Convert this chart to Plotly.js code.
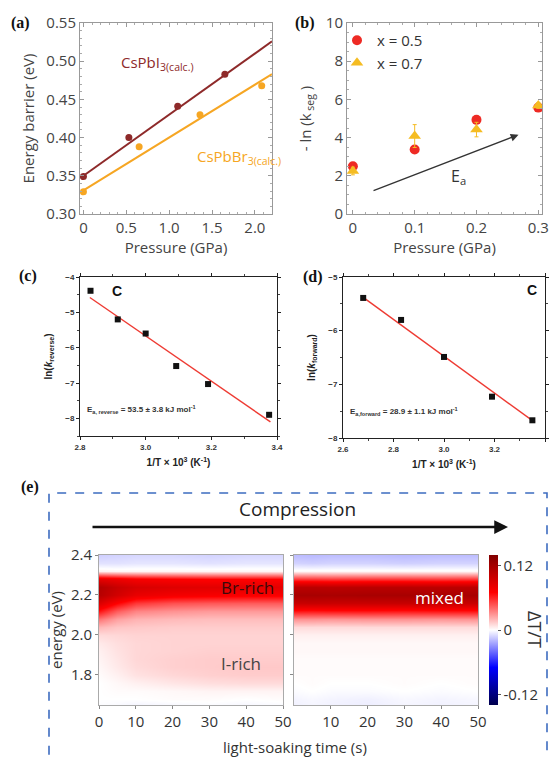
<!DOCTYPE html>
<html><head><meta charset="utf-8">
<script src="https://cdn.plot.ly/plotly-3.0.1.min.js"></script>
<style>html,body{margin:0;padding:0;background:#fff}#fig{width:551px;height:759px}</style>
</head><body><div id="fig"></div>
<script>
// ---------- panel (a) ----------
const aPressI = [0, 0.53, 1.1, 1.65];
const aBarrierI = [0.349, 0.400, 0.441, 0.483];
const aPressBr = [0, 0.65, 1.36, 2.08];
const aBarrierBr = [0.329, 0.388, 0.430, 0.468];
const aFitX = [0, 2.2];
const aFitI = [0.350, 0.526];
const aFitBr = [0.331, 0.483];
// ---------- panel (b) ----------
const bPress = [0, 0.1, 0.2, 0.3];
const bX05 = [2.5, 3.38, 4.93, 5.57];
const bX05err = [0.12, 0.12, 0.15, 0.12];
const bX07 = [2.25, 4.08, 4.42, 5.68];
const bX07err = [0.2, 0.6, 0.38, 0.15];
const bArrowFrom = [0.031, 1.19];
const bArrowTo = [0.268, 4.15];
// ---------- panel (c) ----------
const cInvT = [2.832, 2.915, 3.0, 3.093, 3.19, 3.376];
const cLnK = [-4.39, -5.2, -5.6, -6.52, -7.03, -7.9];
const cFitX = [2.83, 3.38];
const cFitY = [-4.58, -8.1];
// ---------- panel (d) ----------
const dInvT = [2.68, 2.83, 3.0, 3.19, 3.35];
const dLnK = [-5.39, -5.8, -6.49, -7.23, -7.67];
const dFitX = [2.68, 3.36];
const dFitY = [-5.38, -7.71];
// ---------- panel (e) ----------
const eTimes = [0, 5, 10, 20, 30, 40, 50];
const eEnergy = [1.64, 1.68, 1.72, 1.76, 1.80, 1.84, 1.88, 1.92, 1.96, 2.00,
                 2.04, 2.08, 2.12, 2.16, 2.20, 2.24, 2.28, 2.32, 2.36, 2.40];
const eLeft = [
  [-0.001,-0.002,-0.004,-0.003,-0.002,-0.003,-0.002],
  [0.000,0.000,0.000,0.001,0.001,0.000,0.001],
  [0.000,0.001,0.001,0.002,0.003,0.003,0.003],
  [0.000,0.002,0.004,0.007,0.009,0.010,0.010],
  [0.001,0.004,0.008,0.011,0.013,0.014,0.014],
  [0.002,0.006,0.010,0.013,0.014,0.015,0.015],
  [0.003,0.007,0.011,0.013,0.014,0.014,0.014],
  [0.004,0.008,0.011,0.012,0.013,0.013,0.013],
  [0.006,0.009,0.011,0.012,0.012,0.012,0.012],
  [0.010,0.011,0.012,0.012,0.012,0.012,0.012],
  [0.020,0.016,0.015,0.014,0.014,0.014,0.014],
  [0.038,0.026,0.021,0.019,0.018,0.018,0.018],
  [0.065,0.045,0.034,0.030,0.028,0.028,0.028],
  [0.090,0.070,0.055,0.048,0.046,0.045,0.045],
  [0.110,0.095,0.082,0.076,0.074,0.073,0.073],
  [0.112,0.100,0.092,0.088,0.086,0.085,0.085],
  [0.085,0.080,0.075,0.072,0.070,0.070,0.070],
  [0.004,0.003,0.003,0.003,0.003,0.003,0.003],
  [-0.008,-0.008,-0.007,-0.007,-0.008,-0.007,-0.007],
  [-0.013,-0.012,-0.011,-0.011,-0.012,-0.011,-0.011]
];
const eRight = [
  [-0.004,-0.003,-0.004,-0.005,-0.003,-0.004,-0.003],
  [-0.003,-0.002,-0.003,-0.004,-0.002,-0.003,-0.002],
  [-0.001,0.000,-0.001,-0.001,0.000,-0.001,0.000],
  [0.000,0.001,0.000,0.000,0.001,0.000,0.001],
  [0.001,0.001,0.001,0.001,0.001,0.001,0.001],
  [0.001,0.001,0.001,0.001,0.001,0.001,0.001],
  [0.001,0.001,0.001,0.001,0.001,0.001,0.001],
  [0.002,0.002,0.002,0.002,0.002,0.002,0.002],
  [0.002,0.002,0.002,0.002,0.002,0.002,0.002],
  [0.004,0.004,0.004,0.004,0.004,0.004,0.004],
  [0.010,0.010,0.010,0.010,0.010,0.010,0.010],
  [0.030,0.030,0.029,0.030,0.030,0.029,0.030],
  [0.065,0.064,0.065,0.065,0.064,0.065,0.065],
  [0.100,0.101,0.100,0.100,0.101,0.100,0.100],
  [0.118,0.118,0.117,0.118,0.118,0.117,0.118],
  [0.108,0.108,0.107,0.108,0.108,0.107,0.108],
  [0.055,0.055,0.054,0.055,0.055,0.054,0.055],
  [0.002,0.002,0.002,0.002,0.002,0.002,0.002],
  [-0.012,-0.013,-0.012,-0.012,-0.013,-0.012,-0.012],
  [-0.018,-0.019,-0.018,-0.018,-0.019,-0.018,-0.018]
];
const eColorTicks = [-0.12, 0, 0.12];

const W = 551, H = 759;
const px = v => v / W;
const py = v => 1 - v / H;

const MAROON = '#8e2a2a', ORANGE = '#f6a623', RED = '#ee2a24', YEL = '#f5bc22';
const SANS = 'Open Sans, sans-serif';
const ARIAL = 'Liberation Sans, Arial, sans-serif';
const SERIF = 'Liberation Serif, Times New Roman, serif';

const seismic = [[0,'#00004d'],[0.25,'#0000ff'],[0.5,'#ffffff'],[0.75,'#ff0000'],[1,'#800000']];

const traces = [
  // (a)
  {x: aFitX, y: aFitI, mode:'lines', line:{color:MAROON, width:2}, xaxis:'x', yaxis:'y', showlegend:false},
  {x: aFitX, y: aFitBr, mode:'lines', line:{color:ORANGE, width:2}, xaxis:'x', yaxis:'y', showlegend:false},
  {x: aPressI, y: aBarrierI, mode:'markers', marker:{color:MAROON, size:7}, xaxis:'x', yaxis:'y', showlegend:false},
  {x: aPressBr, y: aBarrierBr, mode:'markers', marker:{color:ORANGE, size:7}, xaxis:'x', yaxis:'y', showlegend:false},
  // (b)
  {x: bPress, y: bX05, mode:'markers', name:'x = 0.5', marker:{color:RED, size:10, symbol:'circle'},
   error_y:{type:'data', array:bX05err, color:RED, thickness:1, width:2}, xaxis:'x2', yaxis:'y2'},
  {x: bPress, y: bX07, mode:'markers', name:'x = 0.7', marker:{color:YEL, size:11, symbol:'triangle-up'},
   error_y:{type:'data', array:bX07err, color:YEL, thickness:1, width:2}, xaxis:'x2', yaxis:'y2'},
  // (c)
  {x: cFitX, y: cFitY, mode:'lines', line:{color:'#ee3b33', width:1.4}, xaxis:'x3', yaxis:'y3', showlegend:false},
  {x: cInvT, y: cLnK, mode:'markers', marker:{color:'#111', size:6, symbol:'square'}, xaxis:'x3', yaxis:'y3', showlegend:false},
  // (d)
  {x: dFitX, y: dFitY, mode:'lines', line:{color:'#ee3b33', width:1.4}, xaxis:'x4', yaxis:'y4', showlegend:false},
  {x: dInvT, y: dLnK, mode:'markers', marker:{color:'#111', size:6, symbol:'square'}, xaxis:'x4', yaxis:'y4', showlegend:false},
  // (e)
  {type:'heatmap', x: eTimes, y: eEnergy, z: eLeft, zsmooth:'best', colorscale: seismic, zmin:-0.14, zmax:0.14,
   showscale:false, xaxis:'x5', yaxis:'y5', showlegend:false},
  {type:'heatmap', x: eTimes, y: eEnergy, z: eRight, zsmooth:'best', colorscale: seismic, zmin:-0.14, zmax:0.14,
   xaxis:'x6', yaxis:'y6', showlegend:false,
   colorbar:{x:px(489), xanchor:'left', xpad:0, ypad:0, thickness:9, len:150/H, lenmode:'fraction',
     y:py(630), yanchor:'middle', outlinewidth:0, tickvals:eColorTicks, ticktext:['-0.12','0','0.12'],
     ticks:'outside', ticklen:3, tickcolor:'#555', tickfont:{family:SANS, size:15, color:'#333'}}}
];

const axAB = {showline:true, linecolor:'#999', linewidth:1, mirror:'ticks', ticks:'inside', ticklen:4,
  tickcolor:'#999', tickfont:{family:SANS, size:15, color:'#444'}, zeroline:false, showgrid:false};
const axCD = {showline:true, linecolor:'#222', linewidth:1, mirror:'ticks', ticks:'outside', ticklen:3,
  tickcolor:'#222', tickfont:{family:ARIAL, size:8, color:'#333', weight:'bold'}, zeroline:false, showgrid:false};
const axE = {showline:true, linecolor:'#aaa', linewidth:1, mirror:true, ticks:'outside', ticklen:3,
  tickcolor:'#888', tickfont:{family:SANS, size:15, color:'#333'}, zeroline:false, showgrid:false};

const annPx = (text, x, y, font, extra) => Object.assign({text, x:px(x), y:py(y),
  xref:'paper', yref:'paper', xanchor:'center', yanchor:'middle', showarrow:false, font}, extra || {});

const layout = {
  width:W, height:H, margin:{l:0, r:0, t:0, b:0}, paper_bgcolor:'#fff', plot_bgcolor:'#fff',
  showlegend:true,
  legend:{x:px(337), y:py(24), xanchor:'left', yanchor:'top', bgcolor:'rgba(0,0,0,0)',
    font:{family:SANS, size:15, color:'#333'}, tracegroupgap:0, itemwidth:30},
  xaxis: Object.assign({}, axAB, {domain:[px(80), px(272)], range:[-0.04, 2.2], anchor:'y',
    tickvals:[0,0.5,1,1.5,2], ticktext:['0','0.5','1.0','1.5','2.0'], minor:{ticks:'inside', ticklen:2, tickcolor:'#aaa', dtick:0.1},
    title:{text:'Pressure (GPa)', font:{family:SANS, size:15, color:'#444'}, standoff:6}}),
  yaxis: Object.assign({}, axAB, {domain:[py(214), py(23)], range:[0.30, 0.55], anchor:'x', dtick:0.05, tickformat:'.2f',
    minor:{ticks:'inside', ticklen:2, tickcolor:'#aaa', dtick:0.01},
    title:{text:'Energy barrier (eV)', font:{family:SANS, size:15, color:'#444'}, standoff:8}}),
  xaxis2: Object.assign({}, axAB, {domain:[px(347), px(542)], range:[-0.0095, 0.306], anchor:'y2', dtick:0.1,
    minor:{ticks:'inside', ticklen:2, tickcolor:'#aaa', dtick:0.02},
    title:{text:'Pressure (GPa)', font:{family:SANS, size:15, color:'#444'}, standoff:6}}),
  yaxis2: Object.assign({}, axAB, {domain:[py(214), py(23)], range:[0, 10], anchor:'x2', dtick:2,
    minor:{ticks:'inside', ticklen:2, tickcolor:'#aaa', dtick:0.5},
    title:{text:'- ln (k<sub> seg</sub> )', font:{family:SANS, size:15, color:'#444'}, standoff:10}}),
  xaxis3: Object.assign({}, axCD, {domain:[px(80), px(277)], range:[2.8, 3.4], anchor:'y3', dtick:0.2, tickformat:'.1f',
    minor:{ticks:'outside', ticklen:2, tickcolor:'#444', dtick:0.1},
    title:{text:'<b>1/T × 10<sup>3</sup> (K<sup>-1</sup>)</b>', font:{family:ARIAL, size:10, color:'#222'}, standoff:8}}),
  yaxis3: Object.assign({}, axCD, {domain:[py(436), py(277)], range:[-8.5, -4], anchor:'x3', dtick:1,
    minor:{ticks:'outside', ticklen:2, tickcolor:'#444', dtick:0.5},
    title:{text:'<b>ln(<i>k</i><sub>reverse</sub>)</b>', font:{family:ARIAL, size:10, color:'#222'}, standoff:10}}),
  xaxis4: Object.assign({}, axCD, {domain:[px(343), px(545)], range:[2.6, 3.4], anchor:'y4', dtick:0.2, tickformat:'.1f',
    minor:{ticks:'outside', ticklen:2, tickcolor:'#444', dtick:0.1},
    title:{text:'<b>1/T × 10<sup>3</sup> (K<sup>-1</sup>)</b>', font:{family:ARIAL, size:10, color:'#222'}, standoff:8}}),
  yaxis4: Object.assign({}, axCD, {domain:[py(438), py(277)], range:[-8, -5], anchor:'x4', dtick:1,
    minor:{ticks:'outside', ticklen:2, tickcolor:'#444', dtick:0.5},
    title:{text:'<b>ln(<i>k</i><sub>forward</sub>)</b>', font:{family:ARIAL, size:10, color:'#222'}, standoff:10}}),
  xaxis5: Object.assign({}, axE, {domain:[px(99), px(283)], range:[0, 50], anchor:'y5', tickvals:[0,10,20,30,40,50]}),
  yaxis5: Object.assign({}, axE, {domain:[py(705), py(555)], range:[1.648, 2.4], anchor:'x5', tickvals:[1.8,2.0,2.2,2.4],
    ticktext:['1.8','2.0','2.2','2.4'],
    title:{text:'energy (eV)', font:{family:SANS, size:15, color:'#333'}, standoff:4}}),
  xaxis6: Object.assign({}, axE, {domain:[px(294), px(478)], range:[0, 50], anchor:'y6', tickvals:[10,20,30,40,50]}),
  yaxis6: Object.assign({}, axE, {domain:[py(705), py(555)], range:[1.648, 2.4], anchor:'x6', tickvals:[1.8,2.0,2.2,2.4],
    showticklabels:false}),
  shapes:[
    {type:'rect', xref:'paper', yref:'paper', x0:px(49), x1:px(547), y0:-0.02, y1:py(493),
     line:{color:'#3d6cc0', width:1.6, dash:'dash'}, fillcolor:'rgba(0,0,0,0)'}
  ],
  annotations:[
    annPx('<b>(a)</b>', 20, 23, {family:SERIF, size:16, color:'#111'}),
    annPx('<b>(b)</b>', 305, 23, {family:SERIF, size:16, color:'#111'}),
    annPx('<b>(c)</b>', 28, 276, {family:SERIF, size:16, color:'#111'}),
    annPx('<b>(d)</b>', 313, 277, {family:SERIF, size:16, color:'#111'}),
    annPx('<b>(e)</b>', 30, 487, {family:SERIF, size:16, color:'#111'}),
    {text:'CsPbI<sub>3(calc.)</sub>', x:0.42, y:0.497, xref:'x', yref:'y', xanchor:'left', showarrow:false,
     font:{family:SANS, size:15, color:MAROON}},
    {text:'CsPbBr<sub>3(calc.)</sub>', x:1.3, y:0.374, xref:'x', yref:'y', xanchor:'left', showarrow:false,
     font:{family:SANS, size:15, color:ORANGE}},
    {x:bArrowTo[0], y:bArrowTo[1], ax:bArrowFrom[0], ay:bArrowFrom[1], xref:'x2', yref:'y2', axref:'x2', ayref:'y2',
     showarrow:true, arrowhead:2, arrowsize:1.2, arrowwidth:1.3, arrowcolor:'#333', text:''},
    {text:'E<sub>a</sub>', x:0.171, y:1.97, xref:'x2', yref:'y2', showarrow:false, font:{family:SANS, size:16, color:'#333'}},
    {text:'<b>C</b>', x:2.913, y:-4.40, xref:'x3', yref:'y3', showarrow:false, font:{family:ARIAL, size:14, color:'#111'}},
    {text:'<b>E<sub>a, reverse</sub> = 53.5 ± 3.8 kJ mol<sup>-1</sup></b>', x:2.815, y:-7.76, xref:'x3', yref:'y3', xanchor:'left',
     showarrow:false, font:{family:ARIAL, size:8, color:'#333'}},
    {text:'<b>C</b>', x:3.35, y:-5.24, xref:'x4', yref:'y4', showarrow:false, font:{family:ARIAL, size:14, color:'#111'}},
    {text:'<b>E<sub>a,forward</sub> = 28.9 ± 1.1 kJ mol<sup>-1</sup></b>', x:2.621, y:-7.51, xref:'x4', yref:'y4', xanchor:'left',
     showarrow:false, font:{family:ARIAL, size:8, color:'#333'}},
    annPx('Compression', 297, 509, {family:SANS, size:19, color:'#222'}),
    {x:px(508), y:py(527), ax:-417, ay:0, xref:'paper', yref:'paper', axref:'pixel', ayref:'pixel', text:'',
     showarrow:true, arrowhead:2, arrowsize:1.1, arrowwidth:2.5, arrowcolor:'#111'},
    annPx('Br-rich', 247, 587, {family:SANS, size:17, color:'#3a0a0a'}),
    annPx('I-rich', 241, 663, {family:SANS, size:17, color:'#444'}),
    annPx('mixed', 440, 597, {family:SANS, size:17, color:'#fff'}),
    annPx('ΔT/T', 535, 629, {family:SANS, size:18, color:'#333'}, {textangle:90}),
    annPx('light-soaking time (s)', 295, 747, {family:SANS, size:15, color:'#333'})
  ]
};

Plotly.newPlot('fig', traces, layout, {staticPlot:true, displayModeBar:false});
</script></body></html>
